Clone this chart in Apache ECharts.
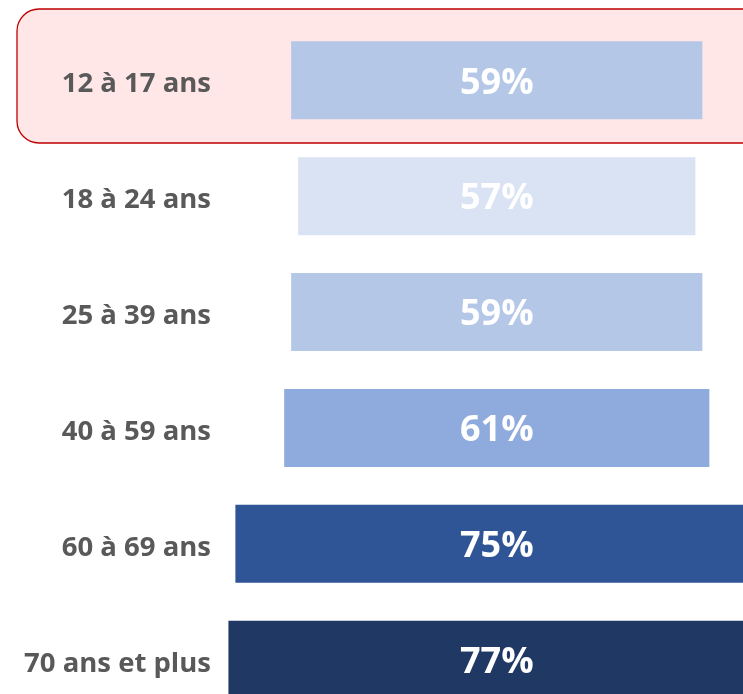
<!DOCTYPE html>
<html>
<head>
<meta charset="utf-8">
<style>
  html, body { margin: 0; padding: 0; background: #ffffff; }
  #chart { width: 743px; height: 694px; }
</style>
<script src="https://cdn.jsdelivr.net/npm/echarts@6/dist/echarts.min.js"></script>
</head>
<body>
<div id="chart"></div>
<script>
// Age groups, top to bottom
const ageGroups = ['12 à 17 ans', '18 à 24 ans', '25 à 39 ans', '40 à 59 ans', '60 à 69 ans', '70 ans et plus'];
// Share per age group, in percent
const shares = [59, 57, 59, 61, 75, 77];
// Fill colour for each bar
const barColors = ['#b4c7e7', '#dae3f3', '#b4c7e7', '#8faadc', '#2f5597', '#203864'];

// Bars are centred on a common axis value; an invisible leading segment offsets each one
const CENTER = 41;
const offsets = shares.map(v => CENTER - v / 2);

const chart = echarts.init(document.getElementById('chart'), null, { renderer: 'canvas' });

chart.setOption({
  animation: false,
  backgroundColor: '#ffffff',
  graphic: [{
    type: 'rect',
    z: -10,
    shape: { x: 17, y: 9, width: 780, height: 134, r: 22 },
    style: { fill: '#ffe7e7', stroke: '#c00000', lineWidth: 1.3 }
  }],
  grid: { left: 211, right: 0, top: 80.3, height: 579.4, containLabel: false },
  xAxis: {
    type: 'value', min: 0, max: 76.33, show: false
  },
  yAxis: {
    type: 'category',
    data: ageGroups,
    inverse: true,
    boundaryGap: false,
    axisLine: { show: false },
    axisTick: { show: false },
    splitLine: { show: false },
    axisLabel: {
      margin: 0,
      formatter: v => '{g|' + v + '}',
      rich: {
        g: {
          color: '#595959',
          fontFamily: 'Open Sans',
          fontWeight: 'bold',
          fontSize: 27.5,
          padding: [8, 0, 0, 0]
        }
      }
    }
  },
  series: [
    {
      type: 'bar',
      stack: 'centred',
      barWidth: 78,
      clip: false,
      silent: true,
      itemStyle: { color: 'transparent' },
      data: offsets
    },
    {
      type: 'bar',
      stack: 'centred',
      barWidth: 78,
      clip: false,
      data: shares.map((v, i) => ({ value: v, itemStyle: { color: barColors[i] } })),
      label: {
        show: true,
        position: 'inside',
        offset: [0, 3],
        formatter: '{c}%',
        color: '#ffffff',
        fontFamily: 'Open Sans',
        fontWeight: 'bold',
        fontSize: 36
      }
    }
  ]
});
</script>
</body>
</html>
